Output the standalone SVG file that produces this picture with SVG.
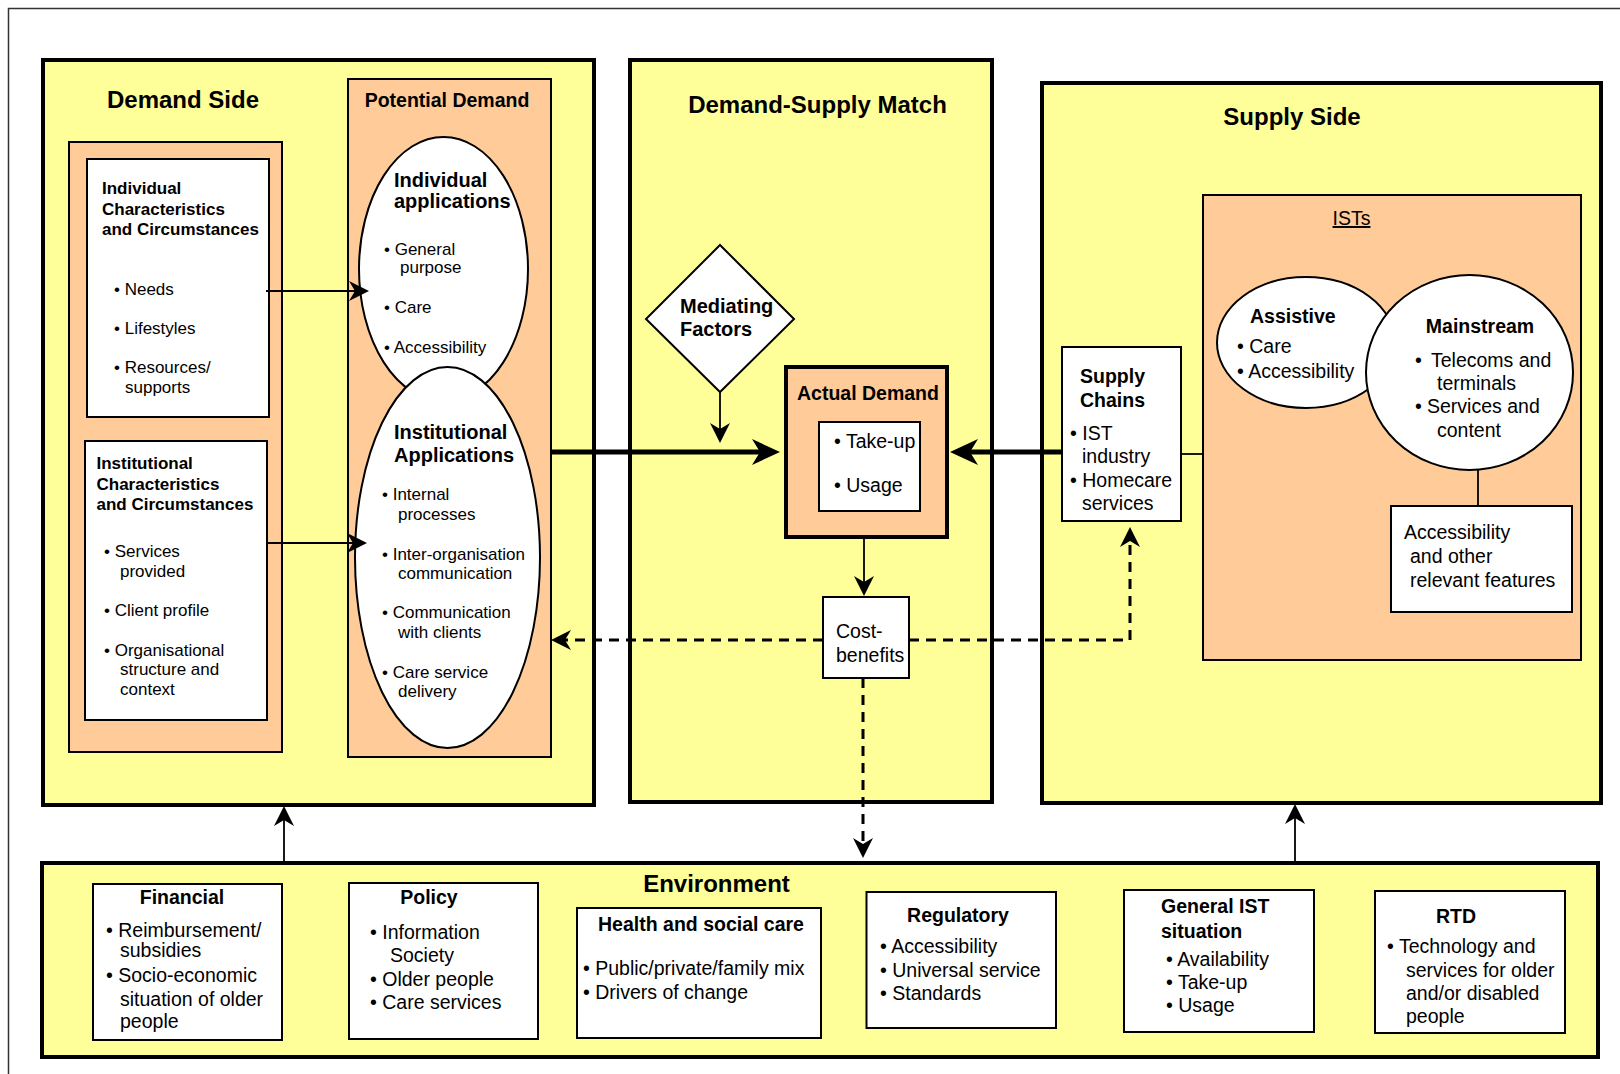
<svg xmlns="http://www.w3.org/2000/svg" width="1620" height="1074" viewBox="0 0 1620 1074">
<style>
text{font-family:"Liberation Sans",Arial,sans-serif;fill:#000}
.yel{fill:#FFFF99;stroke:#000;stroke-width:4}
.pch{fill:#FFCC99;stroke:#000;stroke-width:2}
.wht{fill:#fff;stroke:#000;stroke-width:2}
.t24{font-size:24px;font-weight:bold}
.b17{font-size:17px;font-weight:bold}
.r17{font-size:17px}
.b19{font-size:19.5px;font-weight:bold}
.r19{font-size:19.5px}
.mid{text-anchor:middle}
.ln{stroke:#000;stroke-width:1.8;fill:none}
.thk{stroke:#000;stroke-width:5;fill:none}
.dsh{stroke:#000;stroke-width:3;fill:none;stroke-dasharray:10 7}
</style>
<defs>
<marker id="ah" markerUnits="userSpaceOnUse" markerWidth="20" markerHeight="20" viewBox="0 0 20 20" refX="6" refY="10" orient="auto"><path d="M0,0 L20,10 L0,20 L6,10 z" fill="#000"/></marker>
<marker id="big" markerUnits="userSpaceOnUse" markerWidth="28" markerHeight="26" viewBox="0 0 28 26" refX="8" refY="13" orient="auto"><path d="M0,0 L28,13 L0,26 L8,13 z" fill="#000"/></marker>
</defs>
<rect width="1620" height="1074" fill="#fff"/>
<rect x="8.5" y="8.5" width="1700" height="1200" fill="none" stroke="#333" stroke-width="1.5"/>

<g id="demand-side">
<rect class="yel" x="43" y="60" width="551" height="745"/>
<text class="t24 mid" x="183" y="108">Demand Side</text>
</g>
<g id="individual-characteristics">
<rect class="pch" x="69" y="142" width="213" height="610"/>
<rect class="wht" x="87" y="159" width="182" height="258"/>
<text class="b17" x="102" y="194">Individual</text>
<text class="b17" x="102" y="215">Characteristics</text>
<text class="b17" x="102" y="235">and Circumstances</text>
<text class="r17" x="114" y="295">• Needs</text>
<text class="r17" x="114" y="334">• Lifestyles</text>
<text class="r17" x="114" y="373">• Resources/</text>
<text class="r17" x="125" y="393">supports</text>
</g>
<g id="institutional-characteristics">
<rect class="wht" x="85" y="441" width="182" height="279"/>
<text class="b17" x="96.5" y="469">Institutional</text>
<text class="b17" x="96.5" y="490">Characteristics</text>
<text class="b17" x="96.5" y="510">and Circumstances</text>
<text class="r17" x="104" y="557">• Services</text>
<text class="r17" x="120" y="577">provided</text>
<text class="r17" x="104" y="616">• Client profile</text>
<text class="r17" x="104" y="656">• Organisational</text>
<text class="r17" x="120" y="675">structure and</text>
<text class="r17" x="120" y="695">context</text>
</g>
<g id="potential-demand">
<rect class="pch" x="348" y="79" width="203" height="678"/>
<text class="b19 mid" x="447" y="107">Potential Demand</text>
</g>
<g id="individual-applications">
<ellipse class="wht" cx="443.5" cy="269" rx="84.5" ry="132"/>
<text class="b19" x="394" y="187" style="font-size:20px">Individual</text>
<text class="b19" x="394" y="208" style="font-size:20px">applications</text>
<text class="r17" x="384" y="255">• General</text>
<text class="r17" x="400" y="273">purpose</text>
<text class="r17" x="384" y="313">• Care</text>
<text class="r17" x="384" y="353">• Accessibility</text>
</g>
<g id="institutional-applications">
<ellipse class="wht" cx="447.5" cy="557.5" rx="92.5" ry="190.5"/>
<text class="b19" x="394" y="439" style="font-size:20px">Institutional</text>
<text class="b19" x="394" y="462" style="font-size:20px">Applications</text>
<text class="r17" x="382" y="500">• Internal</text>
<text class="r17" x="398" y="520">processes</text>
<text class="r17" x="382" y="560">• Inter-organisation</text>
<text class="r17" x="398" y="579">communication</text>
<text class="r17" x="382" y="618">• Communication</text>
<text class="r17" x="398" y="638">with clients</text>
<text class="r17" x="382" y="678">• Care service</text>
<text class="r17" x="398" y="697">delivery</text>
</g>

<g id="demand-supply-match">
<rect class="yel" x="630" y="60" width="362" height="742"/>
<text class="t24 mid" x="817.5" y="113">Demand-Supply Match</text>
</g>
<g id="mediating-factors">
<polygon class="wht" points="720,245 794,319 720,392 646,319"/>
<text class="b19" x="680" y="313" style="font-size:20px">Mediating</text>
<text class="b19" x="680" y="336" style="font-size:20px">Factors</text>
</g>
<g id="actual-demand">
<rect class="pch" x="786" y="367" width="161" height="170" style="stroke-width:4"/>
<text class="b19" x="797" y="400">Actual Demand</text>
<rect class="wht" x="819" y="422" width="101" height="89"/>
<text class="r19" x="834" y="448">• Take-up</text>
<text class="r19" x="834" y="492">• Usage</text>
</g>
<g id="cost-benefits">
<rect class="wht" x="823" y="597" width="86" height="81"/>
<text class="r19" x="836" y="638">Cost-</text>
<text class="r19" x="836" y="662">benefits</text>
</g>

<g id="supply-side">
<rect class="yel" x="1042" y="83" width="559" height="720"/>
<text class="t24 mid" x="1292" y="125">Supply Side</text>
</g>
<g id="ists">
<rect class="pch" x="1203" y="195" width="378" height="465"/>
<text class="r19 mid" x="1351.5" y="225" text-decoration="underline">ISTs</text>
</g>
<g id="assistive">
<ellipse class="wht" cx="1306" cy="342.5" rx="89" ry="65.5"/>
<text class="b19" x="1250" y="323">Assistive</text>
<text class="r19" x="1237" y="353">• Care</text>
<text class="r19" x="1237" y="378">• Accessibility</text>
</g>
<g id="mainstream">
<ellipse class="wht" cx="1469.5" cy="372.5" rx="103.5" ry="97.5"/>
<text class="b19 mid" x="1480" y="333">Mainstream</text>
<text class="r19" y="367"><tspan x="1415">•</tspan><tspan x="1431">Telecoms and</tspan></text>
<text class="r19" x="1437" y="390">terminals</text>
<text class="r19" y="413"><tspan x="1415">•</tspan><tspan x="1427">Services and</tspan></text>
<text class="r19" x="1437" y="437">content</text>
</g>
<g id="accessibility-features">
<rect class="wht" x="1391" y="506" width="181" height="106"/>
<text class="r19" x="1404" y="539">Accessibility</text>
<text class="r19" x="1410" y="563">and other</text>
<text class="r19" x="1410" y="587">relevant features</text>
</g>
<g id="supply-chains">
<rect class="wht" x="1062" y="347" width="119" height="174"/>
<text class="b19" x="1080" y="383">Supply</text>
<text class="b19" x="1080" y="407">Chains</text>
<text class="r19" x="1070" y="440">• IST</text>
<text class="r19" x="1082" y="463">industry</text>
<text class="r19" x="1070" y="487">• Homecare</text>
<text class="r19" x="1082" y="510">services</text>
</g>

<g id="environment">
<rect class="yel" x="42" y="863" width="1556" height="194"/>
<text class="t24 mid" x="716.5" y="892">Environment</text>
</g>
<g id="financial">
<rect class="wht" x="93" y="884" width="189" height="156"/>
<text class="b19 mid" x="182" y="904">Financial</text>
<text class="r19" x="106" y="937">• Reimbursement/</text>
<text class="r19" x="120" y="957">subsidies</text>
<text class="r19" x="106" y="982">• Socio-economic</text>
<text class="r19" x="120" y="1006">situation of older</text>
<text class="r19" x="120" y="1028">people</text>
</g>
<g id="policy">
<rect class="wht" x="349" y="883" width="189" height="156"/>
<text class="b19 mid" x="429" y="904">Policy</text>
<text class="r19" x="370" y="939">• Information</text>
<text class="r19" x="390" y="962">Society</text>
<text class="r19" x="370" y="986">• Older people</text>
<text class="r19" x="370" y="1009">• Care services</text>
</g>
<g id="health-social-care">
<rect class="wht" x="577" y="908" width="244" height="130"/>
<text class="b19 mid" x="701" y="931">Health and social care</text>
<text class="r19" x="583" y="975">• Public/private/family mix</text>
<text class="r19" x="583" y="999">• Drivers of change</text>
</g>
<g id="regulatory">
<rect class="wht" x="866.5" y="892" width="189.5" height="136"/>
<text class="b19 mid" x="958" y="922">Regulatory</text>
<text class="r19" x="880" y="953">• Accessibility</text>
<text class="r19" x="880" y="977">• Universal service</text>
<text class="r19" x="880" y="1000">• Standards</text>
</g>
<g id="general-ist">
<rect class="wht" x="1124" y="890" width="190" height="142"/>
<text class="b19" x="1161" y="913">General IST</text>
<text class="b19" x="1161" y="938">situation</text>
<text class="r19" x="1166" y="966">• Availability</text>
<text class="r19" x="1166" y="989">• Take-up</text>
<text class="r19" x="1166" y="1012">• Usage</text>
</g>
<g id="rtd">
<rect class="wht" x="1375" y="891" width="190" height="142"/>
<text class="b19 mid" x="1456" y="923">RTD</text>
<text class="r19" x="1387" y="953">• Technology and</text>
<text class="r19" x="1406" y="977">services for older</text>
<text class="r19" x="1406" y="1000">and/or disabled</text>
<text class="r19" x="1406" y="1023">people</text>
</g>

<g id="connectors">
<line class="ln" x1="266" y1="291" x2="355" y2="291" marker-end="url(#ah)"/>
<line class="ln" x1="267" y1="543" x2="353" y2="543" marker-end="url(#ah)"/>
<line class="thk" x1="551" y1="452" x2="760" y2="452" marker-end="url(#big)"/>
<line class="thk" x1="1062" y1="452" x2="970" y2="452" marker-end="url(#big)"/>
<line class="ln" x1="720" y1="392" x2="720" y2="429" marker-end="url(#ah)"/>
<line class="ln" x1="864" y1="537" x2="864" y2="582" marker-end="url(#ah)"/>
<line class="dsh" x1="823" y1="640" x2="565" y2="640" marker-end="url(#ah)"/>
<polyline class="dsh" points="909,640 1130,640 1130,541" marker-end="url(#ah)"/>
<line class="dsh" x1="863" y1="678" x2="863" y2="844" marker-end="url(#ah)"/>
<line class="ln" x1="284" y1="863" x2="284" y2="820" marker-end="url(#ah)"/>
<line class="ln" x1="1295" y1="863" x2="1295" y2="818" marker-end="url(#ah)"/>
<line class="ln" x1="1181" y1="454" x2="1203" y2="454"/>
<line class="ln" x1="1478" y1="470" x2="1478" y2="506"/>
</g>
</svg>
